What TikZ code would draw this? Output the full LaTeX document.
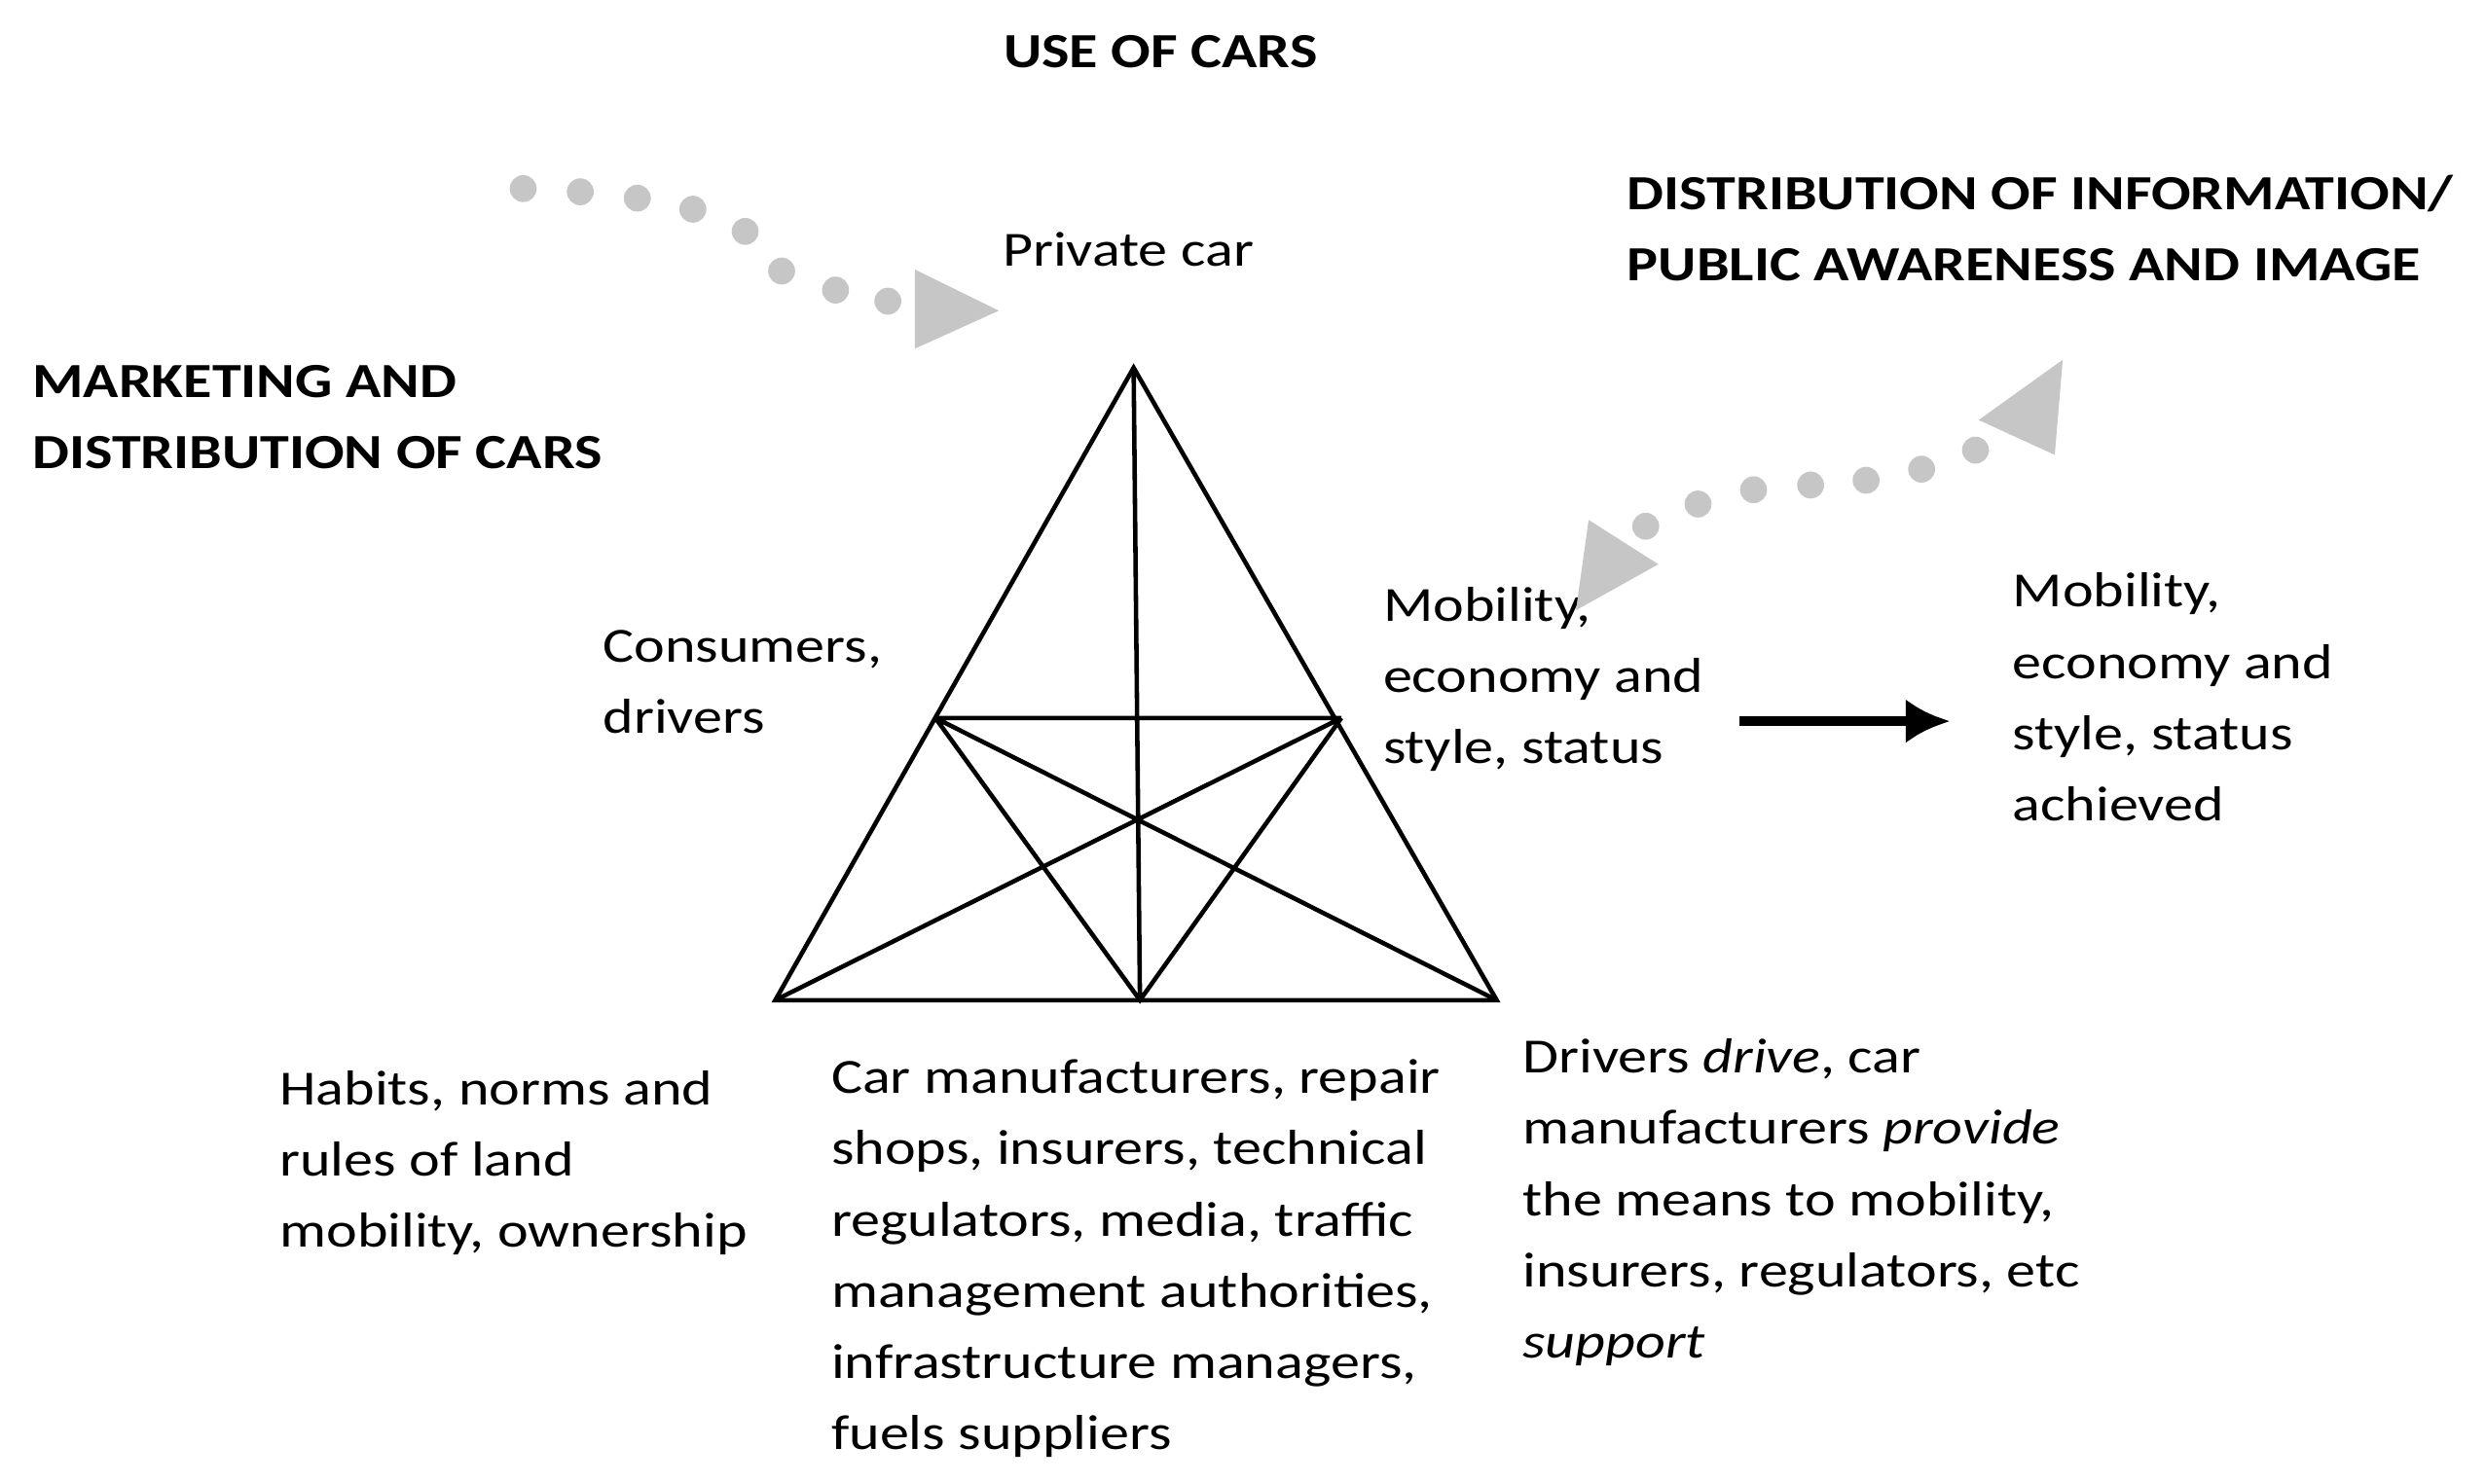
\documentclass[tikz,border=0pt]{standalone}
\usepackage{fontspec}
\setmainfont[FakeStretch=1.19]{Carlito}
\usetikzlibrary{arrows.meta}
\begin{document}
\begin{tikzpicture}[x=0.5pt,y=-0.5pt,
  lbl/.style={anchor=north west,align=left,font=\fontsize{15.5}{22.5}\selectfont,inner sep=0},
  hd/.style={anchor=north west,align=left,font=\fontsize{15.5}{22.5}\selectfont\bfseries,inner sep=0},
  dot/.style={fill=gray!45,draw=none},
  tri/.style={line width=1.4pt}]
\useasboundingbox (0,0) rectangle (1568,936);
\coordinate (A) at (715,232);
\coordinate (BL) at (489,631);
\coordinate (BR) at (944,631);
\coordinate (ML) at (590,453);
\coordinate (MR) at (846,453);
\coordinate (MB) at (719,631);
\draw[tri] (A)--(BL)--(BR)--cycle;
\draw[tri] (A)--(MB) (ML)--(MR) (ML)--(MB)--(MR) (BL)--(MR) (BR)--(ML);
\node[hd,anchor=north] (t1) at (732,22) {USE OF CARS};
\node[hd] (t2) at (1026,110) {DISTRIBUTION OF INFORMATION/\\PUBLIC AWARENESS AND IMAGE};
\node[hd] (t3) at (20,230) {MARKETING AND\\DISTRIBUTION OF CARS};
\node[lbl] (pc) at (632,146) {Private car};
\node[lbl] (cd) at (380,397) {Consumers,\\drivers};
\node[lbl] (m1) at (872,370) {Mobility,\\economy and\\style, status};
\node[lbl] (m2) at (1269,361) {Mobility,\\economy and\\style, status\\achieved};
\node[lbl] (h) at (176,675) {Habits, norms and\\rules of land\\mobility, ownership};
\node[lbl] (c) at (524,668) {Car manufacturers, repair\\shops, insurers, technical\\regulators, media, traffic\\management authorities,\\infrastructure managers,\\fuels suppliers};
\node[lbl] (d) at (960,655) {Drivers \textit{drive}, car\\manufacturers \textit{provide}\\the means to mobility,\\insurers, regulators, etc\\\textit{support}};
\coordinate (a1) at (1097,455);
\coordinate (a2) at (1230,455);
\draw[line width=3pt,-{Latex[length=14pt,width=14pt]}] (a1)--(a2);
\foreach \p in {(330,119),(366,121),(402,125),(437,132),(470,146),(493,171),(527,183),(560,190)}
  \fill[dot] \p circle (8.5);
\fill[dot] (577,170)--(630,196)--(577,220)--cycle;
\foreach \p in {(1246,284),(1212,296),(1177,303),(1142,306),(1106,309),(1071,318),(1038,332)}
  \fill[dot] \p circle (8.5);
\fill[dot] (1301,227)--(1296,287)--(1248,265)--cycle;
\fill[dot] (994,385)--(1002,328)--(1046,356)--cycle;
\end{tikzpicture}
\end{document}
